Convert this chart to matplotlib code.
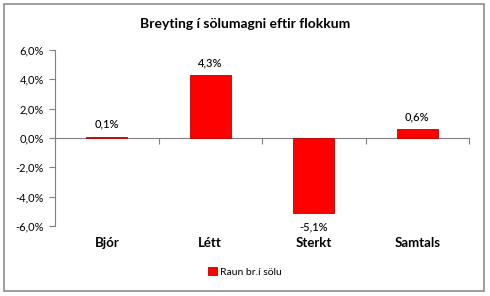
import matplotlib.pyplot as plt
from matplotlib.patches import Rectangle

# Gögn lesin af myndinni
flokkar = ['Bjór', 'Létt', 'Sterkt', 'Samtals']
breyting = [0.1, 4.3, -5.1, 0.6]
y_merki = [-6, -4, -2, 0, 2, 4, 6]
titill = 'Breyting í sölumagni eftir flokkum'
skyring = 'Raun br.í sölu'

plt.rcParams['font.family'] = ['Lato', 'DejaVu Sans']

def pct(v):
    return f'{v:.1f}'.replace('.', ',') + '%'

fig = plt.figure(figsize=(4.9, 2.96), dpi=100)
fig.patches.append(Rectangle((4 / 490, 5 / 296), 480 / 490, 287 / 296,
                             transform=fig.transFigure, fill=False,
                             edgecolor='#8c8c8c', linewidth=1.2))

ax = fig.add_axes([55 / 490, 70 / 296, 414 / 490, 176 / 296])
x = range(len(flokkar))
bars = ax.bar(x, breyting, width=0.4, color='#ff0000', edgecolor='#c00000',
              linewidth=0.6, label=skyring, zorder=3)

ax.set_xlim(-0.5, len(flokkar) - 0.5)
ax.set_ylim(-6, 6)
ax.set_yticks(y_merki)
ax.set_yticklabels([pct(v) for v in y_merki], fontsize=8)

for s in ['top', 'right']:
    ax.spines[s].set_visible(False)
ax.spines['bottom'].set_position(('data', 0))
ax.spines['bottom'].set_color('#808080')
ax.spines['left'].set_color('#808080')
ax.set_xticks([i - 0.5 for i in range(len(flokkar) + 1)])
ax.set_xticklabels([])
ax.tick_params(axis='x', length=4, color='#808080')
ax.tick_params(axis='y', length=4, color='#808080', pad=4)

for i, (b, v) in enumerate(zip(bars, breyting)):
    if v >= 0:
        ax.annotate(pct(v), (i, v), xytext=(0, 5), textcoords='offset points',
                    ha='center', va='bottom', fontsize=8, fontweight='medium')
    else:
        ax.annotate(pct(v), (i, v), xytext=(0, -6), textcoords='offset points',
                    ha='center', va='top', fontsize=8, fontweight='medium')
    ax.text(i, -0.062, flokkar[i], transform=ax.get_xaxis_transform(),
            ha='center', va='top', fontsize=9.5, fontweight='bold')

fig.text(0.5, 0.918, titill, ha='center', va='center', fontsize=10,
         fontweight='bold')
fig.legend(handles=[bars], labels=[skyring], loc='center',
           bbox_to_anchor=(0.5, 24 / 296), frameon=False,
           fontsize=7.5, handlelength=0.8, handleheight=0.8, handletextpad=0.3)

fig.savefig('out.png', dpi=100)
